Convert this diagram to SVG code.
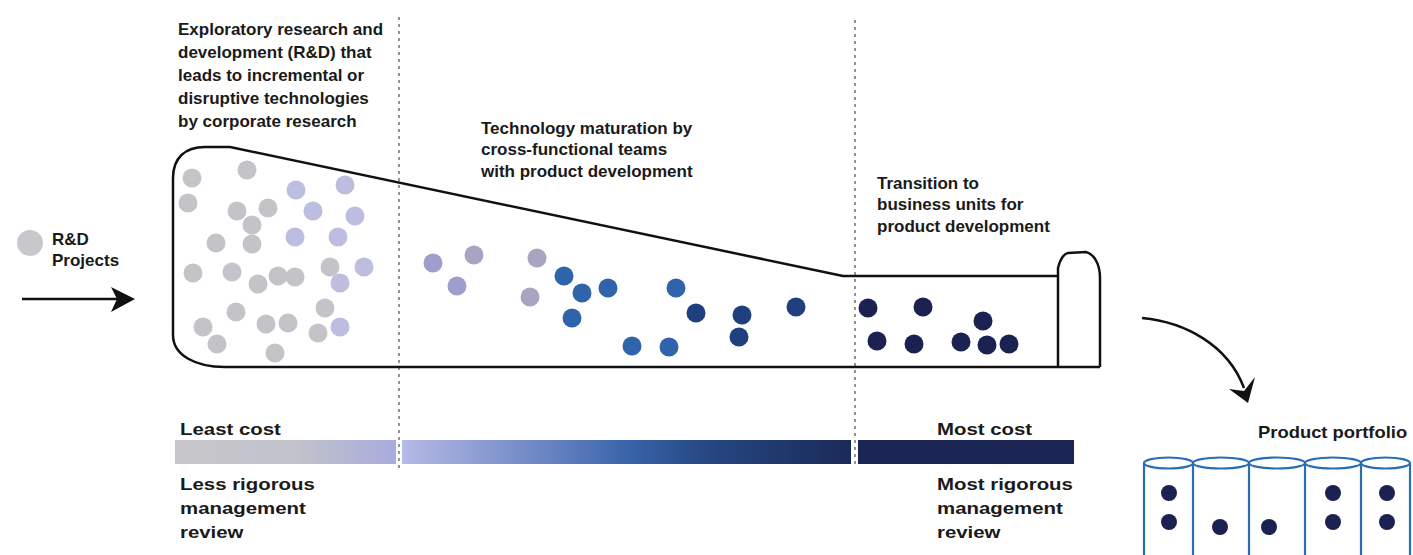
<svg xmlns="http://www.w3.org/2000/svg" width="1413" height="555" viewBox="0 0 1413 555">
<style>
text{font-family:"Liberation Sans",Arial,sans-serif;font-weight:bold;font-size:17px;fill:#1a1a1a}
.outline{fill:none;stroke:#111;stroke-width:2.5;stroke-linejoin:round}
.dash{stroke:#7a7a7a;stroke-width:1.6;stroke-dasharray:3 4}
.g{fill:#c4c4c8}.l{fill:#bdbddf}
.m1{fill:#a09ccb}.m2{fill:#a7a5c2}
.b{fill:#2f64aa}.d{fill:#1f3f7e}.n{fill:#1b2150}
.cyl{fill:none;stroke:#2a6db5;stroke-width:2.2}
.arrow{fill:none;stroke:#111;stroke-width:2.5}
</style>
<defs>
<linearGradient id="g1" x1="0" x2="1" y1="0" y2="0">
<stop offset="0" stop-color="#c6c6ca"/><stop offset="0.55" stop-color="#c2c2cc"/><stop offset="1" stop-color="#a8acdc"/>
</linearGradient>
<linearGradient id="g2" x1="0" x2="1" y1="0" y2="0">
<stop offset="0" stop-color="#b6bae6"/><stop offset="0.3" stop-color="#6f88c6"/><stop offset="0.5" stop-color="#3a64aa"/><stop offset="0.68" stop-color="#264782"/><stop offset="1" stop-color="#1a2a58"/>
</linearGradient>
</defs>
<rect width="1413" height="555" fill="#fff"/>

<g id="phases">
<line class="dash" x1="399" y1="17" x2="399" y2="468"/>
<line class="dash" x1="855" y1="20" x2="855" y2="468"/>
</g>

<g id="funnel">
<path class="outline" d="M1058,276 L843,276 L230,147 L205,147 C185,147 173,158 173,178 L173,335 C173,355 195,367 225,367 L1100,367"/>
<path class="outline" d="M1058,367 L1058,268 C1060,260 1063,254 1068,253 L1086,252 C1094,254 1100,264 1100,278 L1100,367"/>
</g>

<g id="exploratory-dots">
<circle class="g" cx="192" cy="178" r="9.5"/><circle class="g" cx="247" cy="170" r="9.5"/>
<circle class="g" cx="188" cy="203" r="9.5"/><circle class="l" cx="296" cy="190" r="9.5"/>
<circle class="l" cx="345" cy="185" r="9.5"/><circle class="g" cx="237" cy="211" r="9.5"/>
<circle class="g" cx="268" cy="208" r="9.5"/><circle class="l" cx="313" cy="211" r="9.5"/>
<circle class="l" cx="355" cy="216" r="9.5"/><circle class="g" cx="252" cy="225" r="9.5"/>
<circle class="l" cx="295" cy="237" r="9.5"/><circle class="l" cx="338" cy="237" r="9.5"/>
<circle class="g" cx="216" cy="243" r="9.5"/><circle class="g" cx="252" cy="244" r="9.5"/>
<circle class="g" cx="193" cy="273" r="9.5"/><circle class="g" cx="232" cy="272" r="9.5"/>
<circle class="g" cx="258" cy="284" r="9.5"/><circle class="g" cx="278" cy="276" r="9.5"/>
<circle class="g" cx="295" cy="277" r="9.5"/><circle class="g" cx="330" cy="267" r="9.5"/>
<circle class="l" cx="340" cy="283" r="9.5"/><circle class="l" cx="364" cy="267" r="9.5"/>
<circle class="g" cx="236" cy="312" r="9.5"/><circle class="g" cx="325" cy="308" r="9.5"/>
<circle class="g" cx="203" cy="327" r="9.5"/><circle class="g" cx="266" cy="324" r="9.5"/>
<circle class="g" cx="288" cy="323" r="9.5"/><circle class="g" cx="217" cy="344" r="9.5"/>
<circle class="g" cx="318" cy="333" r="9.5"/><circle class="l" cx="340" cy="327" r="9.5"/>
<circle class="g" cx="275" cy="353" r="9.5"/>
</g>

<g id="maturation-dots">
<circle class="m1" cx="433" cy="263" r="9.5"/><circle class="m2" cx="474" cy="255" r="9.5"/>
<circle class="m1" cx="457" cy="286" r="9.5"/><circle class="m2" cx="537" cy="258" r="9.5"/>
<circle class="m2" cx="530" cy="297" r="9.5"/>
<circle class="b" cx="564" cy="276" r="9.5"/><circle class="b" cx="582" cy="293" r="9.5"/>
<circle class="b" cx="608" cy="288" r="9.5"/><circle class="b" cx="572" cy="318" r="9.5"/>
<circle class="b" cx="676" cy="288" r="9.5"/><circle class="b" cx="632" cy="346" r="9.5"/>
<circle class="b" cx="669" cy="347" r="9.5"/>
<circle class="d" cx="696" cy="313" r="9.5"/><circle class="d" cx="742" cy="315" r="9.5"/>
<circle class="d" cx="739" cy="337" r="9.5"/><circle class="d" cx="796" cy="307" r="9.5"/>
</g>

<g id="transition-dots">
<circle class="n" cx="868" cy="308" r="9.5"/><circle class="n" cx="923" cy="307" r="9.5"/>
<circle class="n" cx="877" cy="341" r="9.5"/><circle class="n" cx="914" cy="344" r="9.5"/>
<circle class="n" cx="961" cy="342" r="9.5"/><circle class="n" cx="983" cy="321" r="9.5"/>
<circle class="n" cx="987" cy="345" r="9.5"/><circle class="n" cx="1009" cy="344" r="9.5"/>
</g>

<g id="rd-projects">
<circle cx="30" cy="243" r="13" fill="#c8c8cc"/>
<text x="52" y="245">R&amp;D<tspan x="52" y="266">Projects</tspan></text>
</g>

<g id="connectors">
<line class="arrow" x1="22" y1="299" x2="122" y2="299"/>
<polygon points="135,299 111,287 117,299 111,312" fill="#111"/>
<path class="arrow" d="M1142,318 C1185,322 1228,345 1244,388"/>
<polygon points="1248,403 1229,389 1244,391 1255,377" fill="#111"/>
</g>

<g id="label-exploratory">
<text x="178" y="35">Exploratory research and<tspan x="178" y="58">development (R&amp;D) that</tspan><tspan x="178" y="81">leads to incremental or</tspan><tspan x="178" y="104">disruptive technologies</tspan><tspan x="178" y="127">by corporate research</tspan></text>
</g>
<g id="label-maturation">
<text x="481" y="134">Technology maturation by<tspan x="481" y="155">cross-functional teams</tspan><tspan x="481" y="177">with product development</tspan></text>
</g>
<g id="label-transition">
<text x="877" y="189">Transition to<tspan x="877" y="210">business units for</tspan><tspan x="877" y="232">product development</tspan></text>
</g>

<g id="cost-bar">
<rect x="175" y="440" width="221" height="24" fill="url(#g1)"/>
<rect x="402" y="440" width="449" height="24" fill="url(#g2)"/>
<rect x="858" y="440" width="216" height="24" fill="#1c2654"/>
<text transform="translate(180,435) scale(1.2 1)">Least cost</text>
<text transform="translate(180,490) scale(1.2 1)">Less rigorous<tspan x="0" dy="24">management</tspan><tspan x="0" dy="24">review</tspan></text>
<text transform="translate(937,435) scale(1.2 1)">Most cost</text>
<text transform="translate(937,490) scale(1.2 1)">Most rigorous<tspan x="0" dy="24">management</tspan><tspan x="0" dy="24">review</tspan></text>
</g>

<g id="portfolio">
<text transform="translate(1258,438) scale(1.15 1)" style="font-size:16px">Product portfolio</text>
<g class="cyl">
<line x1="1144" y1="463" x2="1144" y2="556"/><line x1="1193" y1="463" x2="1193" y2="556"/>
<line x1="1249" y1="463" x2="1249" y2="556"/><line x1="1305" y1="463" x2="1305" y2="556"/>
<line x1="1361" y1="463" x2="1361" y2="556"/><line x1="1410" y1="463" x2="1410" y2="556"/>
<ellipse cx="1168.5" cy="463" rx="24.5" ry="5.5"/><ellipse cx="1221" cy="463" rx="28" ry="5.5"/>
<ellipse cx="1277" cy="463" rx="28" ry="5.5"/><ellipse cx="1333" cy="463" rx="28" ry="5.5"/>
<ellipse cx="1385.5" cy="463" rx="24.5" ry="5.5"/>
</g>
<circle class="n" cx="1169" cy="493" r="8"/><circle class="n" cx="1169" cy="522" r="8"/>
<circle class="n" cx="1220" cy="527" r="8"/><circle class="n" cx="1269" cy="527" r="8"/>
<circle class="n" cx="1333" cy="493" r="8"/><circle class="n" cx="1333" cy="522" r="8"/>
<circle class="n" cx="1387" cy="493" r="8"/><circle class="n" cx="1387" cy="522" r="8"/>
</g>
</svg>
